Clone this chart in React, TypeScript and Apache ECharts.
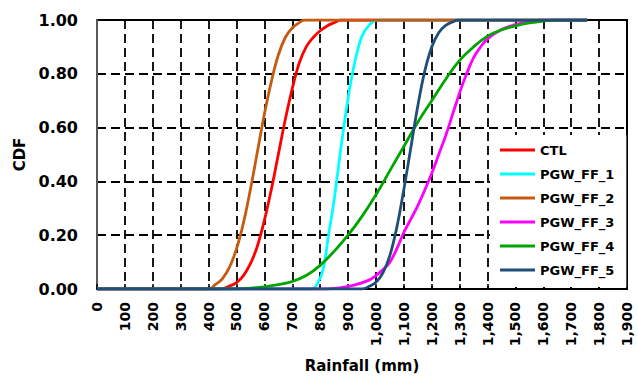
import React, { useEffect, useRef } from "react";
import * as echarts from "echarts";

const xTicks = [0, 1900, 100];
const yTicks = [0, 1, 0.2];

const seriesNames = ["CTL", "PGW_FF_1", "PGW_FF_2", "PGW_FF_3", "PGW_FF_4", "PGW_FF_5"];
const seriesColors = ["#FF0000", "#00FFFF", "#C55A11", "#FF00FF", "#00A600", "#1F4E79"];

const ctl = [[0,0],[441,0],[475,0.011],[500,0.024],[525,0.05],[550,0.094],[575,0.16],[600,0.255],[625,0.37],[650,0.5],[675,0.63],[700,0.745],[725,0.84],[750,0.9],[775,0.935],[800,0.96],[825,0.978],[850,0.99],[875,1],[1757,1]];
const ff1 = [[0,0],[770,0],[790,0.02],[810,0.07],[830,0.2],[850,0.33],[870,0.49],[890,0.64],[910,0.77],[930,0.87],[950,0.94],[975,0.98],[1003,1],[1757,1]];
const ff2 = [[0,0],[400,0],[425,0.017],[450,0.039],[475,0.081],[500,0.149],[525,0.246],[550,0.371],[575,0.51],[600,0.65],[625,0.771],[650,0.87],[675,0.935],[700,0.97],[725,0.99],[745,1],[1757,1]];
const ff3 = [[0,0],[820,0],[875,0.005],[925,0.015],[975,0.033],[1000,0.05],[1025,0.072],[1050,0.1],[1075,0.15],[1100,0.21],[1150,0.31],[1200,0.43],[1225,0.5],[1250,0.57],[1275,0.65],[1300,0.73],[1325,0.8],[1350,0.86],[1375,0.9],[1400,0.93],[1450,0.965],[1500,0.983],[1550,0.994],[1600,1],[1757,1]];
const ff4 = [[0,0],[480,0],[550,0.003],[600,0.008],[650,0.016],[700,0.028],[750,0.05],[800,0.088],[850,0.14],[900,0.2],[950,0.27],[1000,0.35],[1050,0.44],[1100,0.53],[1150,0.62],[1200,0.7],[1250,0.78],[1300,0.85],[1350,0.9],[1400,0.94],[1450,0.963],[1500,0.978],[1550,0.989],[1600,0.996],[1650,1],[1757,1]];
const ff5 = [[0,0],[950,0],[975,0.009],[1000,0.025],[1025,0.06],[1050,0.125],[1075,0.23],[1100,0.37],[1125,0.525],[1150,0.68],[1175,0.81],[1200,0.9],[1225,0.953],[1250,0.98],[1275,0.993],[1295,1],[1757,1]];

const seriesData = [ctl, ff1, ff2, ff3, ff4, ff5];

const FONT = "DejaVu Sans";

export default function App() {
  const ref = useRef<HTMLDivElement>(null);
  useEffect(() => {
    const chart = echarts.init(ref.current as HTMLDivElement, null, { renderer: "svg" });
    chart.setOption({
      animation: false,
      backgroundColor: "#fff",
      grid: {
        left: 97,
        top: 20,
        right: 11,
        bottom: 92,
        show: true,
        borderColor: "#000",
        borderWidth: 2,
        backgroundColor: "transparent",
      },
      legend: {
        orient: "vertical",
        left: 490,
        top: 135,
        padding: [7, 12, 9, 10],
        backgroundColor: "#fff",
        itemWidth: 35,
        itemHeight: 3,
        itemGap: 8,
        icon: "rect",
        data: seriesNames,
        textStyle: { fontFamily: FONT, fontWeight: "bold", fontSize: 13, color: "#000", lineHeight: 16 },
      },
      xAxis: {
        type: "value",
        min: xTicks[0],
        max: xTicks[1],
        interval: xTicks[2],
        name: "Rainfall (mm)",
        nameLocation: "middle",
        nameGap: 69,
        nameTextStyle: { fontFamily: FONT, fontWeight: "bold", fontSize: 15, color: "#000" },
        axisLine: { show: true, lineStyle: { color: "#000", width: 2 } },
        axisTick: { show: true, inside: true, length: 5, lineStyle: { color: "#000", width: 1.5 } },
        axisLabel: {
          rotate: 90,
          margin: 13,
          fontFamily: FONT,
          fontWeight: "bold",
          fontSize: 14,
          color: "#000",
          formatter: (v: number) => v.toLocaleString("en-US"),
        },
        splitLine: { show: true, lineStyle: { color: "#000", width: 1.8, type: [9, 5] } },
      },
      yAxis: {
        type: "value",
        min: yTicks[0],
        max: yTicks[1],
        interval: yTicks[2],
        name: "CDF",
        nameLocation: "middle",
        nameGap: 69,
        nameTextStyle: { fontFamily: FONT, fontWeight: "bold", fontSize: 15, color: "#000" },
        axisLine: { show: true, lineStyle: { color: "#595959", width: 2 } },
        axisTick: { show: false },
        axisLabel: {
          margin: 19,
          fontFamily: FONT,
          fontWeight: "bold",
          fontSize: 16,
          color: "#000",
          formatter: (v: number) => v.toFixed(2),
        },
        splitLine: { show: true, lineStyle: { color: "#000", width: 1.8, type: [9, 5] } },
      },
      series: seriesNames.map((name, i) => ({
        name,
        type: "line",
        data: seriesData[i],
        smooth: 0.4,
        showSymbol: false,
        symbol: "none",
        lineStyle: { color: seriesColors[i], width: 2.8 },
        itemStyle: { color: seriesColors[i] },
      })),
    });
    return () => chart.dispose();
  }, []);
  return (
    <div
      ref={ref}
      style={{ position: "absolute", left: 0, top: 0, width: 638, height: 381, background: "#fff" }}
    />
  );
}
